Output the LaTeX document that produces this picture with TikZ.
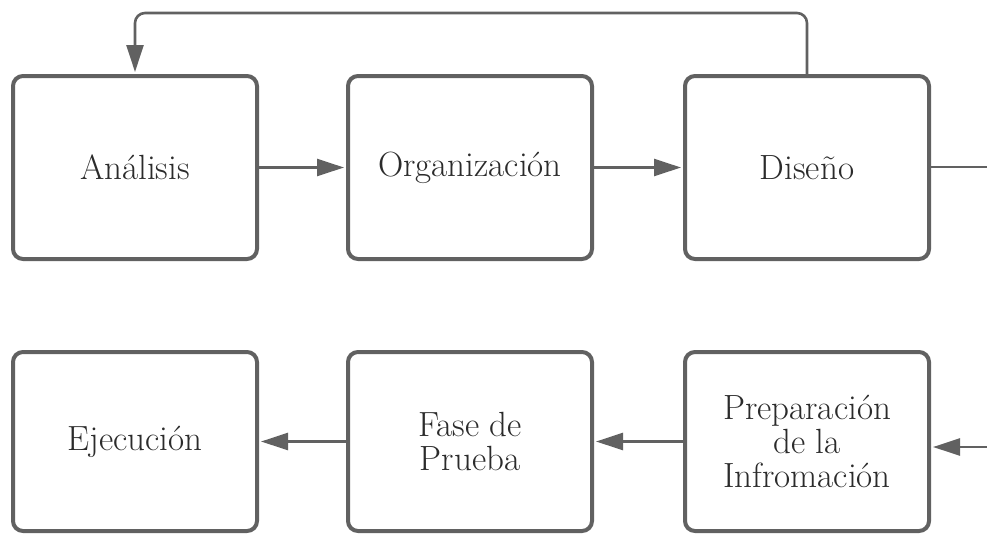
\documentclass[tikz,border=0pt]{standalone}
\usetikzlibrary{arrows.meta}
\definecolor{ink}{HTML}{616161}
\definecolor{txt}{HTML}{2B2B2B}
\begin{document}
\begin{tikzpicture}[x=1pt,y=-1pt,
  stage/.style={draw=ink, line width=4pt, rounded corners=10pt,
    minimum width=244pt, inner sep=0pt, align=center,
    font=\fontsize{35}{34}\selectfont, text=txt},
  toprow/.style={stage, minimum height=183pt},
  botrow/.style={stage, minimum height=179pt},
  wire/.style={draw=ink, line width=2.6pt},
  link/.style={wire, -{Triangle[length=27pt,width=17pt]}, shorten >=2pt}]
\useasboundingbox (0,0) rectangle (987,533);

% upper row of stages
\node[toprow] (ana) at (135,167.5) {Análisis};
\node[toprow] (org) at (470,167.5) {Organización};
\node[toprow] (dis) at (807,167.5) {Diseño};

% lower row of stages
\node[botrow] (eje) at (135,441.5) {Ejecución};
\node[botrow] (fas) at (470,441.5) {Fase de\\Prueba};
\node[botrow] (pre) at (807,441.5) {Preparación\\de la\\Infromación};

% free ends and the height of the feedback loop
\coordinate (loop) at (0,13);
\coordinate (disout) at (987,167);
\coordinate (prein) at (987,447);

% connectors
\draw[link] (ana.east) -- (org.west);
\draw[link] (org.east) -- (dis.west);
\draw[link, rounded corners=10pt] (dis.north) -- (dis.north |- loop) -| (ana.north);
\draw[wire] (dis.east |- disout) -- (disout);
\draw[link] (prein) -- (pre.east |- prein);
\draw[link] (pre.west) -- (fas.east);
\draw[link] (fas.west) -- (eje.east);
\end{tikzpicture}
\end{document}
